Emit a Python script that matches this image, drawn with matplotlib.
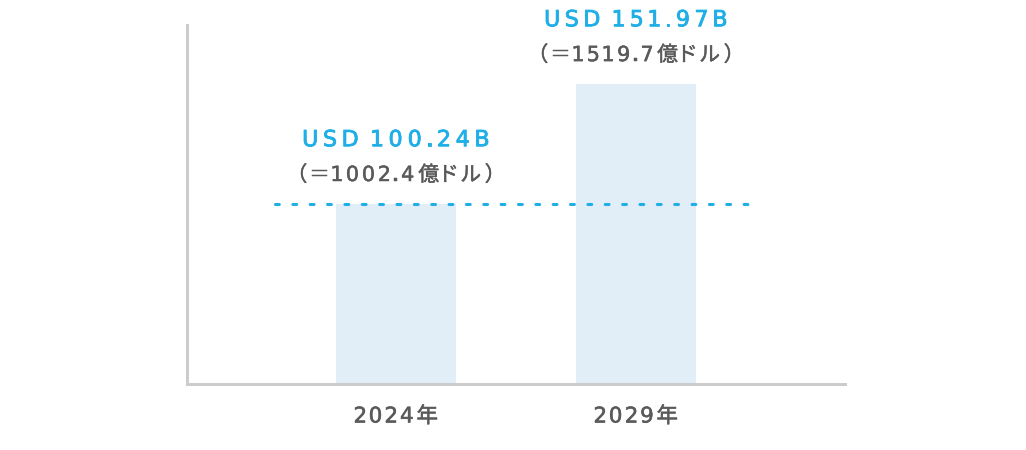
import matplotlib
matplotlib.use("Agg")
import matplotlib.pyplot as plt
from matplotlib.font_manager import FontProperties
from matplotlib.textpath import TextPath
import matplotlib.patheffects as pe

FAM = ['DejaVu Sans', 'Noto Sans CJK JP']
plt.rcParams['font.family'] = FAM

years = ["2024年", "2029年"]
values = [100.24, 151.97]
usd_labels = ["USD 100.24B", "USD 151.97B"]
jpy_labels = ["（＝1002.4億ドル）", "（＝1519.7億ドル）"]

BLUE = "#1fafe6"
GRAY = "#5a5a5a"
BAR = "#e1eef8"
SPINE = "#cccccc"

# layout/styling: pixel widths of the (letter-spaced) text runs
USD_W = [184, 180]
JPY_W = [190, 188]
YEAR_W = [82, 82]

DPI = 100
fig = plt.figure(figsize=(10.26, 4.5), dpi=DPI)
ax = fig.add_axes([187/1026, 66/450, 658/1026, 359/450])

x = list(range(len(years)))
ax.bar(x, values, width=0.5, color=BAR, zorder=1)

ax.set_xlim(-0.871, 1.871)
ax.set_ylim(22.6, 177.45)

# dashed reference line at the 2024 value
ax.plot([-0.504, 1.517], [values[0], values[0]], color=BLUE, lw=2.2,
        dashes=(1.25, 4.43), dash_capstyle='round', zorder=2)


def _fam(ch):
    return ['Noto Sans CJK JP'] if ord(ch) >= 0x2E80 else ['DejaVu Sans']


def _ink(s, fp, px):
    e = TextPath((0, 0), s, size=px, prop=fp).get_extents()
    return e.x0, e.x1


def spaced(xy, s, dy, target, size, color, stroke, xycoords='data'):
    px = size * DPI / 72.0
    items = []
    space_before = []
    pending = 0.0
    for ch in s:
        fp = FontProperties(family=_fam(ch), size=size)
        if ch == ' ':
            a0, a1 = _ink('x x', fp, px)
            b0, b1 = _ink('xx', fp, px)
            pending += (a1 - a0) - (b1 - b0)
            continue
        x0, x1 = _ink(ch, fp, px)
        items.append((ch, fp, x0, x1 - x0))
        space_before.append(pending)
        pending = 0.0
    n = len(items)
    sp = (target - sum(it[3] for it in items) - sum(space_before)) / (n - 1)
    effects = [pe.withStroke(linewidth=stroke, foreground=color)]
    pos = -target / 2
    for k, (ch, fp, lsb, w) in enumerate(items):
        if k > 0:
            pos += sp + space_before[k]
        ax.annotate(ch, xy, xycoords=xycoords, xytext=(pos - lsb, dy),
                    textcoords='offset pixels', ha='left', va='baseline',
                    fontproperties=fp, color=color, annotation_clip=False,
                    path_effects=effects)
        pos += w


for xi, v, u, j, uw, jw in zip(x, values, usd_labels, jpy_labels, USD_W, JPY_W):
    spaced((xi, v), u, 57.8, uw, 16.0, BLUE, 0.6)
    spaced((xi, v), j, 23.0, jw, 15.0, GRAY, 0.35)

for xi, yl, yw in zip(x, years, YEAR_W):
    spaced((xi, 0), yl, -38.5, yw, 15.5, GRAY, 0.4,
           xycoords=ax.get_xaxis_transform())

ax.set_xticks([])
ax.set_yticks([])

for s in ['top', 'right']:
    ax.spines[s].set_visible(False)
for s in ['left', 'bottom']:
    ax.spines[s].set_color(SPINE)
    ax.spines[s].set_linewidth(2.16)

fig.savefig("out.png", dpi=DPI)
